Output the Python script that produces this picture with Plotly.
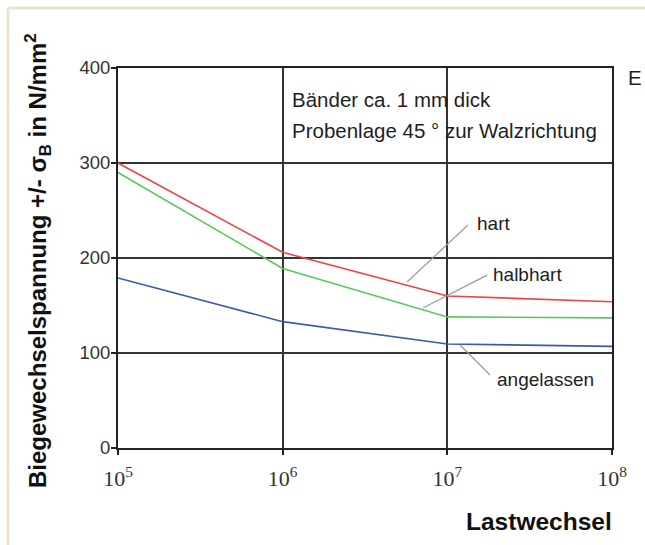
import numpy as np
import plotly.graph_objects as go

# Load cycles (Lastwechsel) and bending fatigue strength in N/mm²
cycles = [1e5, 1e6, 1e7, 1e8]
hart = [300, 206, 160, 154]
halbhart = [290, 189, 138, 137]
angelassen = [179, 133, 109.5, 107]

series = [
    ("hart", hart, "#e8474a"),
    ("halbhart", halbhart, "#5cc85c"),
    ("angelassen", angelassen, "#3d5aa8"),
]

# Leader lines from curve labels to the curves: (label, x pair, y pair)
leaders = [
    ("hart", [10**6.755, 10**7.125], [174.7, 234.7]),
    ("halbhart", [10**6.852, 10**7.241], [147.4, 182.0]),
    ("angelassen", [10**7.077, 10**7.259], [108.4, 76.8]),
]
# Label anchor positions (log10 of cycles, stress)
label_pos = {
    "hart": (7.168, 236.8),
    "halbhart": (7.265, 183.0),
    "angelassen": (7.288, 71.6),
}

W, H = 645, 545
ML, MR, MT, MB = 118, 33, 68, 97
PW, PH = W - ML - MR, H - MT - MB


def px_to_paper(px, py):
    return (px - ML) / PW, (H - MB - py) / PH


fig = go.Figure()

for name, vals, color in series:
    fig.add_trace(go.Scatter(
        x=cycles, y=vals, mode="lines", name=name,
        line=dict(color=color, width=1.6), showlegend=False,
    ))

for name, xs, ys in leaders:
    fig.add_trace(go.Scatter(
        x=xs, y=ys, mode="lines", line=dict(color="#9a9a9a", width=1.2),
        showlegend=False, hoverinfo="skip",
    ))

label_font = dict(family="Liberation Sans, Arial, sans-serif", size=19, color="#1e1e1e")
note_font = dict(family="Liberation Sans, Arial, sans-serif", size=20.5, color="#1e1e1e")
annotations = []
for name, (lx, ly) in label_pos.items():
    annotations.append(dict(
        x=lx, y=ly, xref="x", yref="y", text=name, showarrow=False,
        xanchor="left", yanchor="middle", font=label_font,
    ))

# Note block in the upper middle of the plot
annotations.append(dict(
    x=6.045, y=367, xref="x", yref="y", text="Bänder ca. 1 mm dick",
    showarrow=False, xanchor="left", yanchor="middle", font=note_font,
))
annotations.append(dict(
    x=6.045, y=334.7, xref="x", yref="y", text="Probenlage 45 ° zur Walzrichtung",
    showarrow=False, xanchor="left", yanchor="middle", font=note_font,
))

ex, ey = px_to_paper(626, 78)
annotations.append(dict(
    x=ex, y=ey, xref="paper", yref="paper", text="E", showarrow=False,
    xanchor="left", yanchor="middle", font=note_font,
))

# Axis titles
tx, ty = px_to_paper(38, 261)
annotations.append(dict(
    x=tx, y=ty, xref="paper", yref="paper", textangle=-90,
    text="<b>Biegewechselspannung +/- σ<sub>B</sub> in N/mm<sup>2</sup></b>",
    showarrow=False, xanchor="center", yanchor="middle",
    font=dict(family="Liberation Sans, Arial, sans-serif", size=24, color="#111"),
))
lx_, ly_ = px_to_paper(614, 521)
annotations.append(dict(
    x=lx_, y=ly_, xref="paper", yref="paper", text="<b>Lastwechsel</b>",
    showarrow=False, xanchor="right", yanchor="middle",
    font=dict(family="Liberation Sans, Arial, sans-serif", size=24.5, color="#111"),
))

# Light frame along the top and left edges of the page
fx0, fy0 = px_to_paper(8, 8)
fx1, _ = px_to_paper(W + 5, 8)
_, fy1 = px_to_paper(8, H + 5)
frame_color = "#eee2d6"
shapes = [
    dict(type="line", xref="paper", yref="paper", x0=fx0, y0=fy0, x1=fx1, y1=fy0,
         line=dict(color=frame_color, width=3)),
    dict(type="line", xref="paper", yref="paper", x0=fx0, y0=fy0, x1=fx0, y1=fy1,
         line=dict(color=frame_color, width=3)),
]

fig.update_layout(
    width=W, height=H,
    margin=dict(l=ML, r=MR, t=MT, b=MB, pad=0),
    paper_bgcolor="white", plot_bgcolor="white",
    annotations=annotations, shapes=shapes,
    xaxis=dict(
        type="log", range=[5, 8],
        tickvals=cycles,
        ticktext=["10<sup>5</sup>", "10<sup>6</sup>", "10<sup>7</sup>", "10<sup>8</sup>"],
        tickfont=dict(family="Liberation Serif, Times New Roman, serif", size=22, color="#333"),
        showgrid=True, gridcolor="#333", gridwidth=1.5,
        showline=True, linecolor="#222", linewidth=2, mirror=True,
        ticks="outside", ticklen=5, tickcolor="#222", tickwidth=1.5,
        zeroline=False, ticklabelstandoff=5,
    ),
    yaxis=dict(
        range=[0, 400], tickvals=[0, 100, 200, 300, 400],
        tickfont=dict(family="Liberation Sans, Arial, sans-serif", size=18.5, color="#333"),
        showgrid=True, gridcolor="#333", gridwidth=1.5,
        showline=True, linecolor="#222", linewidth=2, mirror=True,
        ticks="outside", ticklen=5, tickcolor="#222", tickwidth=1.5,
        zeroline=False, ticklabelstandoff=-3,
    ),
)

fig.write_html("out.html")
